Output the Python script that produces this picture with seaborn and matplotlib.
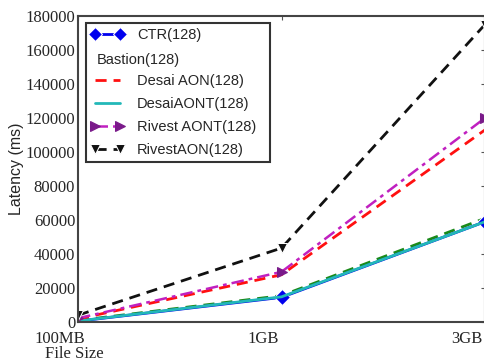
import matplotlib
matplotlib.use("Agg")
import matplotlib.pyplot as plt
import seaborn as sns
import numpy as np
from matplotlib.lines import Line2D

sizes = ["100MB", "1GB", "3GB"]
ctr = [500, 14500, 59000]
bastion = [900, 15500, 61000]
desai_aon = [1800, 27800, 113000]
desai_aont = [600, 14800, 59000]
rivest_aont = [2200, 29500, 120000]
rivest_aon = [4000, 43500, 175000]
yticks = [0, 20000, 40000, 60000, 80000, 100000, 120000, 140000, 160000, 180000]

sns.set_style("white")
plt.rcParams['font.family'] = ['Liberation Sans', 'DejaVu Sans']

fig = plt.figure(figsize=(4.84, 3.63), dpi=100)
ax = fig.add_axes([78/484, 1-322/363, 407/484, (322-16)/363])

xpos = np.arange(len(sizes))

series = [
    ("Bastion(128)", bastion, dict(color="#1a8a1a", linestyle=(0, (4, 2.5)), lw=2.0, marker=None)),
    ("CTR(128)", ctr, dict(color="#0000ee", linestyle="-", lw=2.0, marker="D", ms=8)),
    ("DesaiAONT(128)", desai_aont, dict(color="#22b8b8", linestyle="-", lw=2.0, marker=None)),
    ("Desai AON(128)", desai_aon, dict(color="#ff1010", linestyle=(0, (4, 2.5)), lw=2.0, marker=None)),
    ("Rivest AONT(128)", rivest_aont, dict(color="#c020c0", linestyle=(0, (5, 2, 1.5, 2)), lw=1.8, marker=">", ms=7, mfc="#7a1a8a", mec="#7a1a8a")),
    ("RivestAON(128)", rivest_aon, dict(color="#111111", linestyle=(0, (4, 2.5)), lw=2.0, marker="v", ms=7)),
]

handles = {}
for name, vals, st in series:
    kw = dict(st)
    ls = kw.pop("linestyle")
    sns.lineplot(x=xpos, y=vals, ax=ax, linestyle=ls, **kw)
    handles[name] = ax.get_lines()[-1]

ax.set_xlim(0, 2)
ax.set_ylim(0, 180000)
ax.set_xticks(xpos)
ax.set_xticklabels([])
for xp, lab in zip(xpos, sizes):
    ax.annotate(lab, xy=(xp, 0), xycoords=ax.get_xaxis_transform(),
                xytext=(-18*0.72, -6.5), textcoords="offset points",
                ha="center", va="top", family="Liberation Serif", fontsize=12,
                annotation_clip=False)
ax.set_yticks(yticks)
ax.set_yticklabels([str(v) for v in yticks], family="Liberation Serif", fontsize=12)
ax.tick_params(axis="both", direction="in", length=3, width=0.8, color="#555555",
               top=True, right=True, pad=2)
for s in ax.spines.values():
    s.set_color("#444444")
    s.set_linewidth(1.5)

ax.set_ylabel("Latency (ms)", fontsize=11.5, labelpad=1)
fig.text(45/484, 1-354/363, "File Size", family="Liberation Serif", fontsize=12, va="center", ha="left")

order = ["CTR(128)", "Bastion(128)", "Desai AON(128)", "DesaiAONT(128)", "Rivest AONT(128)", "RivestAON(128)"]
hs = []
labs = []
for n in order:
    if n == "Bastion(128)":
        hs.append(Line2D([], [], linestyle="none", marker=None))
        labs.append(" ")
    else:
        hs.append(handles[n])
        labs.append(n)

leg = ax.legend(hs, labs, loc="upper left",
                bbox_to_anchor=(86/484, 1-163/363, (270-86)/484, (163-23)/363),
                mode="expand",
                bbox_transform=fig.transFigure, borderaxespad=0, frameon=True,
                fancybox=False, framealpha=1, edgecolor="#333333", fontsize=10.5,
                handlelength=2.25, handletextpad=0.9, labelspacing=0.62, numpoints=2,
                borderpad=0.35, markerscale=0.95)
leg.get_frame().set_linewidth(1.5)
fig.text(97/484, 1-60/363, "Bastion(128)", fontsize=10.5, va="center", ha="left", zorder=10)

fig.savefig("out.png", dpi=100)
